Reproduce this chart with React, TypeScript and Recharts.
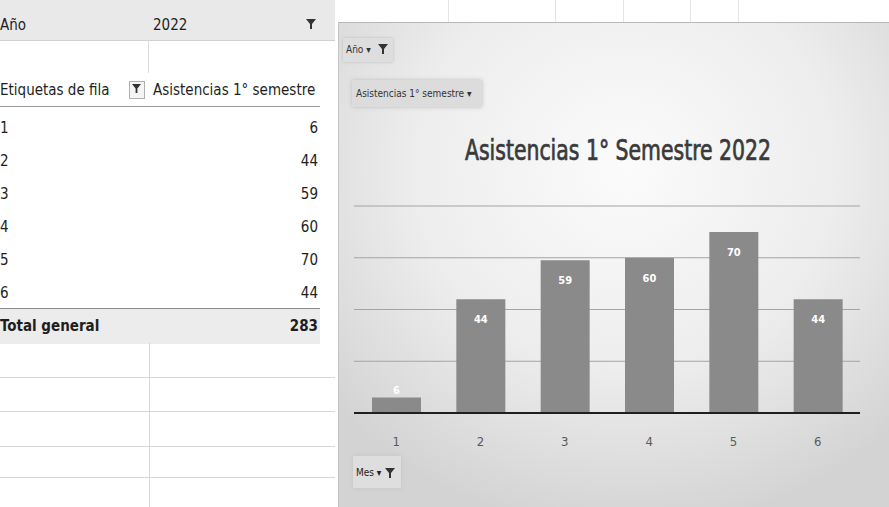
import React from 'react';
import { BarChart, Bar, XAxis, YAxis, CartesianGrid, LabelList } from 'recharts';

const meses: string[] = ['1', '2', '3', '4', '5', '6'];
const asistencias: number[] = [6, 44, 59, 60, 70, 44];
const yTicks: number[] = [0, 20, 40, 60, 80];
const titulo = 'Asistencias 1° Semestre 2022';
const anio = '2022';
const serieNombre = 'Asistencias 1° semestre';

const data = meses.map((m, i) => ({ mes: m, asistencias: asistencias[i] }));
const total = asistencias.reduce((a, b) => a + b, 0);

const FONT = "'Liberation Sans Narrow', 'DejaVu Sans Condensed', 'Liberation Sans', sans-serif";

const Funnel = ({ x, y, size = 10, color = '#333' }: { x: number; y: number; size?: number; color?: string }) => (
  <svg width={size} height={size} style={{ position: 'absolute', left: x, top: y }} viewBox="0 0 10 10">
    <polygon points="0,0 10,0 6,5 6,10 4,10 4,5" fill={color} />
  </svg>
);

const BarLabel = (props: any) => {
  const { x, y, width, height, value } = props;
  const cx = x + width / 2;
  const ty = height < 28 ? y - 6 : y + 21;
  return (
    <text x={cx} y={ty} textAnchor="middle" dominantBaseline="middle" fill="#ffffff" fontSize={11} fontFamily={FONT} fontWeight="bold">
      {value}
    </text>
  );
};

const cell = (extra: React.CSSProperties): React.CSSProperties => ({
  position: 'absolute',
  fontFamily: FONT,
  fontSize: 15,
  color: '#1e1e1e',
  whiteSpace: 'nowrap',
  lineHeight: '20px',
  ...extra,
});

export default function App() {
  const rowTops = [118, 151, 184, 217, 250, 283];
  return (
    <div style={{ position: 'absolute', left: 0, top: 0, width: 889, height: 507, background: '#ffffff', overflow: 'hidden' }}>
      {/* Spreadsheet left */}
      <div style={{ position: 'absolute', left: 0, top: 0, width: 335, height: 40, background: '#e9e9e9', borderBottom: '1px solid #d0d0d0' }} />
      <div style={cell({ left: 0, top: 15 })}>Año</div>
      <div style={cell({ left: 153, top: 15 })}>{anio}</div>
      <Funnel x={306} y={19} size={10} />
      <div style={{ position: 'absolute', left: 148, top: 40, width: 1, height: 33, background: '#dcdcdc' }} />
      <div style={cell({ left: 0, top: 80 })}>Etiquetas de fila</div>
      <div style={{ position: 'absolute', left: 129, top: 81, width: 14, height: 16, border: '1px solid #b0b0b0', background: '#f4f4f4' }} />
      <Funnel x={132} y={84} size={9} />
      <div style={cell({ left: 153, top: 80 })}>{serieNombre}</div>
      <div style={{ position: 'absolute', left: 0, top: 106, width: 320, height: 1, background: '#9a9a9a' }} />
      {meses.map((m, i) => (
        <React.Fragment key={m}>
          <div style={cell({ left: 0, top: rowTops[i] })}>{m}</div>
          <div style={cell({ left: 220, top: rowTops[i], width: 98, textAlign: 'right' })}>{asistencias[i]}</div>
        </React.Fragment>
      ))}
      <div style={{ position: 'absolute', left: 0, top: 308, width: 320, height: 35, background: '#ececec', borderTop: '1px solid #8a8a8a' }} />
      <div style={cell({ left: 0, top: 316, fontWeight: 'bold' })}>Total general</div>
      <div style={cell({ left: 220, top: 316, width: 98, textAlign: 'right', fontWeight: 'bold' })}>{total}</div>
      {[377, 411, 446, 477].map((y) => (
        <div key={y} style={{ position: 'absolute', left: 0, top: y, width: 335, height: 1, background: '#d6d6d6' }} />
      ))}
      <div style={{ position: 'absolute', left: 149, top: 343, width: 1, height: 164, background: '#d6d6d6' }} />
      {/* spreadsheet lines above chart */}
      {[448, 555, 623, 690, 738].map((x) => (
        <div key={x} style={{ position: 'absolute', left: x, top: 0, width: 1, height: 22, background: '#e4e4e4' }} />
      ))}
      {/* Chart area */}
      <div
        style={{
          position: 'absolute',
          left: 338,
          top: 22,
          width: 551,
          height: 485,
          background: 'radial-gradient(ellipse 70% 75% at 52% 30%, #fbfbfb 0%, #ededed 55%, #d3d3d3 100%)',
          borderTop: '1px solid #b8b8b8',
          borderLeft: '1px solid #c4c4c4',
          boxSizing: 'border-box',
        }}
      />
      <div style={{ position: 'absolute', left: 340, top: 22 }}>
        <BarChart width={549} height={485} data={data} margin={{ top: 184, right: 29, left: 14, bottom: 54 }}>
          <CartesianGrid vertical={false} stroke="#a4a4a4" strokeWidth={1} />
          <YAxis hide domain={[0, 80]} ticks={yTicks} />
          <XAxis
            dataKey="mes"
            height={40}
            axisLine={{ stroke: '#1f1f1f', strokeWidth: 2 }}
            tickLine={false}
            tickMargin={18}
            tick={{ fill: '#5a5a5a', fontSize: 13, fontFamily: FONT }}
          />
          <Bar dataKey="asistencias" fill="#8a8a8a" barSize={49} isAnimationActive={false}>
            <LabelList dataKey="asistencias" content={<BarLabel />} />
          </Bar>
        </BarChart>
      </div>
      <div
        style={{
          position: 'absolute',
          left: 338,
          top: 134,
          width: 560,
          textAlign: 'center',
          fontFamily: FONT,
          fontSize: 28,
          color: '#3a3a3a',
          lineHeight: '34px',
          whiteSpace: 'nowrap',
          transform: 'scaleX(0.81)',
          transformOrigin: '280px 50%',
          WebkitTextStroke: '0.7px #3a3a3a',
        }}
      >
        {titulo}
      </div>
      {/* pivot field buttons */}
      <div style={{ position: 'absolute', left: 343, top: 38, width: 50, height: 24, background: '#dedede', boxShadow: '0 0 3px #bdbdbd' }} />
      <div style={cell({ left: 346, top: 40, fontSize: 10, color: '#333' })}>Año ▾</div>
      <Funnel x={378} y={44} size={10} />
      <div style={{ position: 'absolute', left: 352, top: 80, width: 130, height: 27, background: '#dcdcdc', boxShadow: '0 0 4px #bdbdbd' }} />
      <div style={cell({ left: 356, top: 84, fontSize: 10, color: '#333' })}>{serieNombre} ▾</div>
      <div style={{ position: 'absolute', left: 353, top: 456, width: 48, height: 32, background: '#dedede', boxShadow: '0 0 4px #c4c4c4' }} />
      <div style={cell({ left: 356, top: 463, fontSize: 10, color: '#222' })}>Mes ▾</div>
      <Funnel x={385} y={468} size={10} />
    </div>
  );
}
